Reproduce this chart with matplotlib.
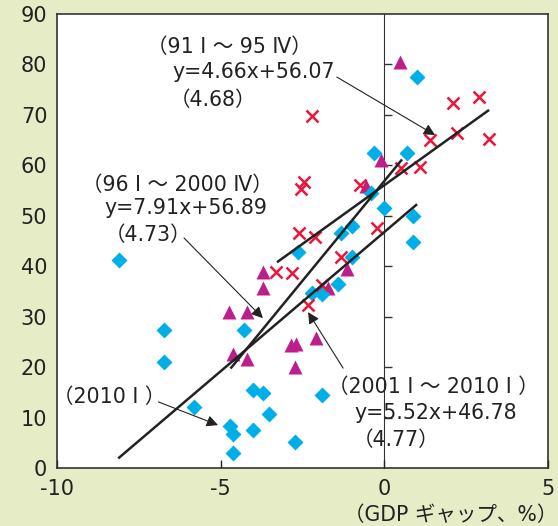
import numpy as np
import matplotlib
matplotlib.use("Agg")
import matplotlib.pyplot as plt

# 91I-95IV (red crosses)
x_91_95 = [-2.21, -2.45, -2.55, -2.61, -2.12, -3.30, -2.82, -0.74, -0.22, 0.51,
           1.09, 1.39, 2.10, 2.22, 2.89, 3.20, -1.33, -2.34, -1.90]
y_91_95 = [69.8, 56.7, 55.3, 46.6, 45.8, 38.9, 38.7, 56.1, 47.6, 59.5,
           59.7, 65.0, 72.4, 66.4, 73.5, 65.2, 41.8, 32.3, 36.3]

# 96I-2000IV (magenta triangles)
x_96_00 = [0.48, -0.10, -0.55, -3.70, -3.70, -4.74, -4.20, -4.62, -4.20, -1.13,
           -1.73, -2.85, -2.70, -2.10, -2.73]
y_96_00 = [80.5, 61.0, 56.0, 38.9, 35.7, 31.0, 30.9, 22.6, 21.6, 39.5,
           35.6, 24.4, 24.6, 25.8, 20.0]

# 2001I-2010I (cyan diamonds)
x_01_10 = [1.00, -0.32, 0.69, -0.40, 0.00, 0.88, 0.88, -1.00, -1.32, -2.63,
           -1.00, -1.42, -2.21, -1.90, -1.90, -2.72, -8.10, -6.72, -6.72, -5.80,
           -4.30, -4.71, -4.62, -4.62, -4.00, -4.01, -3.70, -3.51]
y_01_10 = [77.5, 62.5, 62.4, 54.5, 51.5, 50.0, 44.8, 48.0, 46.6, 42.8,
           41.8, 36.5, 34.6, 34.4, 14.5, 5.2, 41.2, 27.4, 21.0, 12.0,
           27.4, 8.4, 6.8, 3.0, 7.5, 15.5, 14.9, 10.7]

# regression lines: slope, intercept, x range
fit_slope = [4.66, 7.91, 5.52]
fit_icpt = [56.07, 56.89, 46.78]
fit_xmin = [-3.28, -4.70, -8.13]
fit_xmax = [3.20, 0.54, 1.00]

xticks = [-10, -5, 0, 5]
yticks = [0, 10, 20, 30, 40, 50, 60, 70, 80, 90]

plt.rcParams['font.family'] = ['DejaVu Sans', 'Noto Sans CJK JP']
plt.rcParams['axes.unicode_minus'] = False

bg = '#e6edc6'
fig = plt.figure(figsize=(5.58, 5.26), dpi=100, facecolor=bg)
ax = fig.add_axes([57/558, 1-468/526, 491/558, 454/526])
ax.set_facecolor('white')

ax.plot(x_96_00, y_96_00, '^', color='#be1e8c', markersize=10.5, mec='none', zorder=3)
ax.plot(x_01_10, y_01_10, 'D', color='#00aee8', markersize=7.8, mec='none', zorder=4)
ax.plot(x_91_95, y_91_95, 'x', color='#e8173a', markersize=9, mew=1.8, zorder=5)

for k, b, x0, x1 in zip(fit_slope, fit_icpt, fit_xmin, fit_xmax):
    xs = np.array([x0, x1])
    ax.plot(xs, k * xs + b, color='#222222', lw=1.8, zorder=6, solid_capstyle='butt')

ax.set_xlim(-10, 5)
ax.set_ylim(0, 90)
ax.set_xticks(xticks)
ax.set_yticks(yticks)
ax.tick_params(axis='y', length=0, pad=7, labelsize=15, colors='#222222')
ax.tick_params(axis='x', direction='in', length=5.5, width=1, pad=8,
               labelsize=15, colors='#222222', top=False)
for s in ax.spines.values():
    s.set_color('#333333')
    s.set_linewidth(1.2)

# zero line with ticks
sec = ax.secondary_yaxis(10/15)
sec.set_yticks(yticks[1:-1])
sec.tick_params(axis='y', length=6, width=1, colors='#333333', labelright=False, labelleft=False)
sec.spines['right'].set_color('#333333')
sec.spines['left'].set_color('#333333')

fs = 14.8
tc = '#222222'

def label(lines, pos):
    for txt, (x, y) in zip(lines, pos):
        ax.text(x, y, txt, fontsize=fs, color=tc, ha='left', va='center', zorder=7)

def arrow(tail, head):
    ax.annotate('', xy=head, xytext=tail,
                arrowprops=dict(arrowstyle='-|>', color='#222222', lw=0.8,
                                shrinkA=0, shrinkB=0, mutation_scale=17), zorder=7)

label(['（91 Ⅰ ～ 95 Ⅳ）', 'y=4.66x+56.07', '（4.68）'],
      [(-7.25, 83.5), (-6.49, 78.5), (-6.55, 73.0)])
arrow((-1.45, 77.5), (1.55, 66.0))

label(['（96 Ⅰ ～ 2000 Ⅳ）', 'y=7.91x+56.89', '（4.73）'],
      [(-9.24, 56.1), (-8.54, 51.5), (-8.54, 46.2)])
arrow((-6.12, 45.6), (-3.71, 29.7))

label(['（2010 Ⅰ ）'], [(-10.12, 14.1)])
arrow((-6.9, 13.1), (-5.08, 8.5))

label(['（2001 Ⅰ ～ 2010 Ⅰ ）', 'y=5.52x+46.78', '（4.77）'],
      [(-1.72, 16.1), (-0.90, 10.9), (-0.96, 5.55)])
arrow((-1.26, 19.8), (-2.33, 30.9))

fig.text(557/558, 1-515/526, '（GDP ギャップ、%）', fontsize=fs, color=tc,
         ha='right', va='center')

fig.savefig('out.png', dpi=100, facecolor=bg)
